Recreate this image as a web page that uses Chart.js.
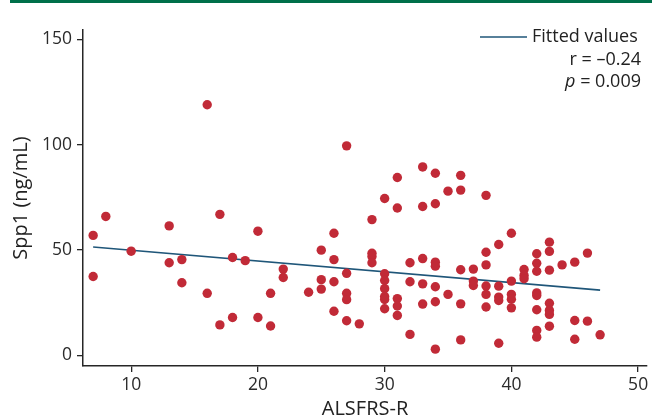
<!DOCTYPE html>
<html>
<head>
<meta charset="utf-8">
<script src="https://cdn.jsdelivr.net/npm/chart.js@4"></script>
<style>
  html, body { margin: 0; padding: 0; background: #fff; }
  canvas { display: block; }
</style>
</head>
<body>
<canvas id="spp1Chart" width="663" height="419"></canvas>
<script>
// ALSFRS-R score of each patient and the Spp1 level
const alsfrsScores = [
  7, 7, 8, 10, 13, 13, 14, 14, 16, 16, 17, 17, 18, 18, 19, 20, 20, 21, 21, 22, 22,
  24, 25, 25, 25, 26, 26, 26, 26, 27, 27, 27, 27, 27, 28,
  29, 29, 29, 29, 30, 30, 30, 30, 30, 30, 30, 31, 31, 31, 31, 31,
  32, 32, 32, 33, 33, 33, 33, 33, 34, 34, 34, 34, 34, 34, 34, 35, 35,
  36, 36, 36, 36, 36, 37, 37, 37, 38, 38, 38, 38, 38, 38,
  39, 39, 39, 39, 39, 40, 40, 40, 40, 40, 41, 41, 41,
  42, 42, 42, 42, 42, 42, 42, 42, 43, 43, 43, 43, 43, 43, 43,
  44, 45, 45, 45, 46, 46, 47
];
const spp1Values = [
  57, 37.5, 66, 49.5, 61.5, 44, 45.5, 34.5, 119, 29.5, 67, 14.5, 46.5, 18, 45, 59, 18, 29.5, 14, 41, 37,
  30, 50, 36, 31.5, 58, 45.5, 35, 21, 99.5, 39, 29.5, 26.5, 16.5, 15,
  64.5, 48.5, 47, 44, 74.5, 38.8, 35.6, 31.7, 28, 26.6, 22.2, 84.5, 70, 27, 23.5, 19,
  44, 35, 10, 89.5, 70.7, 46, 34, 24.4, 86.5, 72, 44.3, 42.4, 32.6, 25.5, 3, 78, 29,
  85.5, 78.5, 40.7, 24.5, 7.4, 41, 35.3, 33.2, 76, 49, 43, 33, 29, 23,
  52.7, 32.9, 27.7, 26.1, 5.8, 58, 35.3, 29, 26.7, 22.6, 40.8, 38, 36.4,
  48.3, 43.8, 40, 29.7, 28.5, 21.7, 11.9, 8.7, 53.8, 49.4, 40.5, 24.8, 21.4, 19.5, 13.9,
  43, 44.3, 16.6, 7.7, 48.6, 16.3, 9.8
];

// fitted regression line, ends only
const fitX = [7, 47];
const fitY = [51.5, 31];

const xTicks = [10, 20, 30, 40, 50];
const yTicks = [0, 50, 100, 150];

const statLines = ["r = \u20130.24", "= 0.009"];

const dotColor = "#c12a37";
const fitColor = "#1f5679";
const axisColor = "#262626";

Chart.defaults.font.family = "'Open Sans', sans-serif";
Chart.defaults.color = "#2b2b2b";

// green rule on top + legend / stats text
const decorPlugin = {
  id: "decor",
  beforeDraw(chart) {
    const c = chart.ctx;
    c.save();
    c.fillStyle = "#00704a";
    c.fillRect(10, 0, 642, 3);
    c.restore();
  },
  afterDraw(chart) {
    const c = chart.ctx;
    c.save();
    c.strokeStyle = fitColor;
    c.lineWidth = 1.5;
    c.beginPath();
    c.moveTo(480, 37);
    c.lineTo(527, 37);
    c.stroke();

    c.fillStyle = "#222";
    c.textBaseline = "middle";
    c.font = "18px 'Open Sans', sans-serif";
    c.textAlign = "left";
    c.fillText("Fitted values", 532, 37);

    c.textAlign = "right";
    c.fillText(statLines[0], 641, 60);
    c.fillText(statLines[1], 641, 82);
    const w = c.measureText(" " + statLines[1]).width;
    c.font = "italic 18px 'Open Sans', sans-serif";
    c.fillText("p", 641 - w, 82);
    c.restore();
  },
};

const ctx = document.getElementById("spp1Chart").getContext("2d");

new Chart(ctx, {
  type: "scatter",
  data: {
    datasets: [
      {
        label: "Spp1",
        data: alsfrsScores.map((x, i) => ({ x: x, y: spp1Values[i] })),
        backgroundColor: dotColor,
        borderWidth: 0,
        pointRadius: 4.7,
        pointHoverRadius: 4.7,
        order: 1,
      },
      {
        label: "Fitted values",
        data: fitX.map((x, i) => ({ x: x, y: fitY[i] })),
        showLine: true,
        borderColor: fitColor,
        borderWidth: 1.6,
        pointRadius: 0,
        order: 2,
      },
    ],
  },
  options: {
    responsive: false,
    animation: false,
    layout: { padding: { top: 30, right: 16, left: 0, bottom: 0 } },
    scales: {
      x: {
        type: "linear",
        min: 6.2,
        max: 50.7,
        afterBuildTicks: (scale) => {
          scale.ticks = xTicks.map((v) => ({ value: v }));
        },
        afterFit: (scale) => {
          scale.height = 53;
        },
        ticks: { font: { size: 17.5 }, color: "#2b2b2b", padding: 3, maxRotation: 0 },
        grid: {
          drawOnChartArea: false,
          drawTicks: true,
          tickLength: 6,
          color: axisColor,
          lineWidth: 1.3,
        },
        border: { display: true, color: axisColor, width: 1.5 },
        title: {
          display: true,
          text: "ALSFRS-R",
          font: { size: 20, lineHeight: 1.0 },
          color: "#222",
          padding: { top: 0, bottom: 0 },
        },
      },
      y: {
        type: "linear",
        min: -5,
        max: 154.5,
        afterBuildTicks: (scale) => {
          scale.ticks = yTicks.map((v) => ({ value: v }));
        },
        afterFit: (scale) => {
          scale.width = 83;
        },
        ticks: { font: { size: 17.5 }, color: "#2b2b2b", padding: 5 },
        grid: {
          drawOnChartArea: false,
          drawTicks: true,
          tickLength: 6,
          color: axisColor,
          lineWidth: 1.3,
        },
        border: { display: true, color: axisColor, width: 1.5 },
        title: {
          display: true,
          text: "Spp1 (ng/mL)",
          font: { size: 20, lineHeight: 1.2 },
          color: "#222",
          padding: { top: 9, bottom: 0 },
        },
      },
    },
    plugins: {
      legend: { display: false },
      tooltip: { enabled: false },
    },
  },
  plugins: [decorPlugin],
});
</script>
</body>
</html>
